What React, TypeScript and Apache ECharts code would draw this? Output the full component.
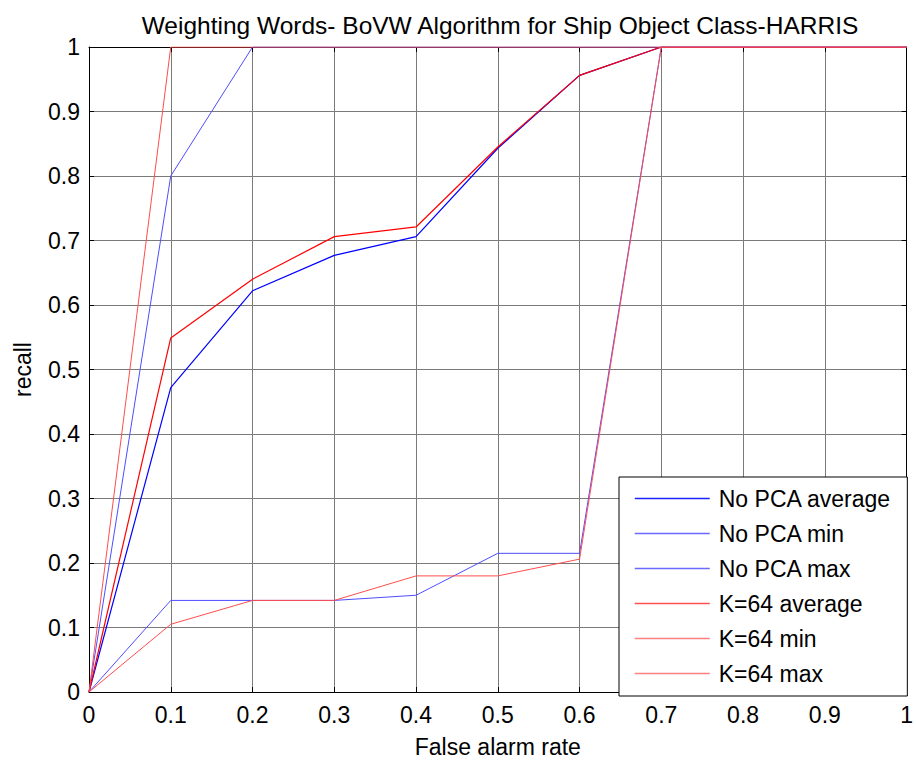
import React, { useEffect, useRef } from "react";
import * as echarts from "echarts";

const falseAlarm = [0, 0.1, 0.2, 0.3, 0.4, 0.5, 0.6, 0.7, 0.8, 0.9, 1];
const noPcaAvg = [0, 0.472, 0.622, 0.677, 0.706, 0.843, 0.956, 1, 1, 1, 1];
const noPcaMin = [0, 0.142, 0.142, 0.142, 0.150, 0.215, 0.215, 1, 1, 1, 1];
const noPcaMax = [0, 0.8, 1, 1, 1, 1, 1, 1, 1, 1, 1];
const k64Avg = [0, 0.549, 0.640, 0.706, 0.721, 0.845, 0.956, 1, 1, 1, 1];
const k64Min = [0, 0.105, 0.142, 0.142, 0.180, 0.180, 0.206, 1, 1, 1, 1];
const k64Max = [0, 1, 1, 1, 1, 1, 1, 1, 1, 1, 1];

const seriesDefs = [
  { name: "No PCA average", data: noPcaAvg, color: "#0000ff", width: 1.2, legendColor: "#2020ff" },
  { name: "No PCA min", data: noPcaMin, color: "#4d4dff", width: 1, legendColor: "#6a6aff" },
  { name: "No PCA max", data: noPcaMax, color: "#4d4dff", width: 1, legendColor: "#6a6aff" },
  { name: "K=64 average", data: k64Avg, color: "#ff0000", width: 1.2, legendColor: "#ff5050" },
  { name: "K=64 min", data: k64Min, color: "#ff4d4d", width: 1, legendColor: "#ff7f7f" },
  { name: "K=64 max", data: k64Max, color: "#ff4d4d", width: 1, legendColor: "#ff7f7f" },
];

const FONT = "Liberation Sans, Arial, sans-serif";
const FS = 23;

export default function App() {
  const ref = useRef<HTMLDivElement>(null);
  useEffect(() => {
    if (!ref.current) return;
    const chart = echarts.init(ref.current, null, { renderer: "svg" });
    const axisCommon = {
      type: "value" as const,
      min: 0,
      max: 1,
      interval: 0.1,
    };
    chart.setOption({
      animation: false,
      backgroundColor: "#ffffff",
      title: {
        text: "Weighting Words- BoVW Algorithm for Ship Object Class-HARRIS",
        left: 495,
        top: 8,
        textAlign: "center",
        textStyle: { fontFamily: FONT, fontSize: 24.5, fontWeight: "normal", color: "#000" },
      },
      grid: { left: 89, right: 8, top: 47, bottom: 71, containLabel: false },
      legend: {
        orient: "vertical",
        left: 619,
        top: 477,
        backgroundColor: "#ffffff",
        borderColor: "#000000",
        borderWidth: 1,
        borderRadius: 0,
        padding: [10, 16, 11, 15],
        itemWidth: 75,
        itemHeight: 14,
        itemGap: 12,
        textStyle: { fontFamily: FONT, fontSize: FS, lineHeight: 23, color: "#000", padding: [0, 0, 0, 4] },
        data: seriesDefs.map((s) => ({
          name: s.name,
          itemStyle: { opacity: 0 },
          lineStyle: { color: s.legendColor, width: 1.5, opacity: 1 },
        })),
      },
      xAxis: [
        {
          ...axisCommon,
          position: "bottom",
          name: "False alarm rate",
          nameLocation: "middle",
          nameGap: 43,
          nameTextStyle: { fontFamily: FONT, fontSize: FS, color: "#000" },
          axisLine: { show: true, onZero: false, lineStyle: { color: "#000", width: 1 } },
          axisTick: { show: true, inside: true, length: 5, lineStyle: { color: "#000" } },
          axisLabel: { fontFamily: FONT, fontSize: FS, color: "#000", margin: 11 },
          splitLine: { show: true, lineStyle: { color: "#7a7a7a", width: 1 } },
        },
        {
          ...axisCommon,
          position: "top",
          axisLine: { show: true, onZero: false, lineStyle: { color: "#000", width: 1 } },
          axisTick: { show: true, inside: true, length: 5, lineStyle: { color: "#000" } },
          axisLabel: { show: false },
          splitLine: { show: false },
        },
      ],
      yAxis: [
        {
          ...axisCommon,
          position: "left",
          name: "recall",
          nameLocation: "middle",
          nameGap: 55,
          nameTextStyle: { fontFamily: FONT, fontSize: FS, color: "#000" },
          axisLine: { show: true, onZero: false, lineStyle: { color: "#000", width: 1 } },
          axisTick: { show: true, inside: true, length: 5, lineStyle: { color: "#000" } },
          axisLabel: { fontFamily: FONT, fontSize: FS, color: "#000", margin: 9 },
          splitLine: { show: true, lineStyle: { color: "#7a7a7a", width: 1 } },
        },
        {
          ...axisCommon,
          position: "right",
          axisLine: { show: true, onZero: false, lineStyle: { color: "#000", width: 1 } },
          axisTick: { show: true, inside: true, length: 5, lineStyle: { color: "#000" } },
          axisLabel: { show: false },
          splitLine: { show: false },
        },
      ],
      series: seriesDefs.map((s) => ({
        name: s.name,
        type: "line",
        xAxisIndex: 0,
        yAxisIndex: 0,
        symbol: "none",
        color: s.color,
        lineStyle: { color: s.color, width: s.width },
        data: falseAlarm.map((x, i) => [x, s.data[i]]),
        z: 3,
      })),
    });
    return () => chart.dispose();
  }, []);
  return <div ref={ref} style={{ width: 916, height: 763, position: "absolute", left: 0, top: 0 }} />;
}
